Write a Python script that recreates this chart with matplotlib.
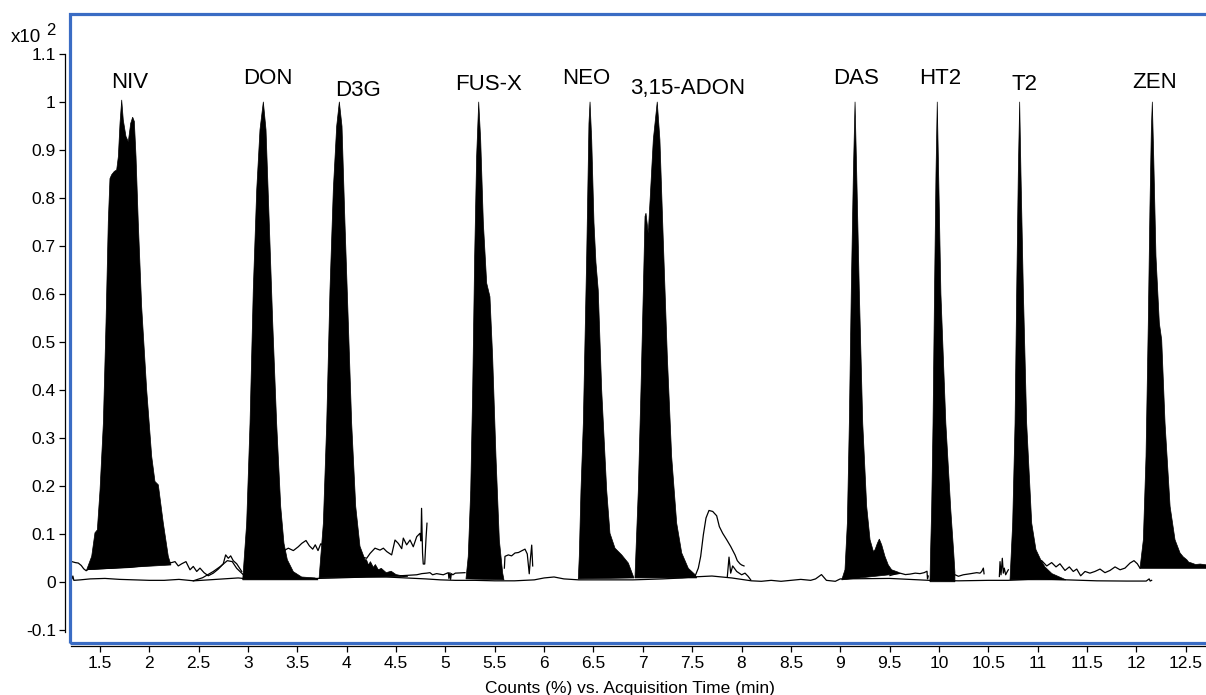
import matplotlib
matplotlib.use("Agg")
import matplotlib.pyplot as plt
from matplotlib.patches import Rectangle

plt.rcParams['font.family'] = ['Liberation Sans', 'DejaVu Sans']

# ---- filled peaks (time in min, counts in x10^2 %) ----
niv_t = [1.365, 1.416, 1.449, 1.473, 1.50, 1.534, 1.561, 1.584, 1.601, 1.618, 1.645, 1.669, 1.686,
         1.703, 1.72, 1.736, 1.763, 1.787, 1.811, 1.831, 1.848, 1.865, 1.888, 1.922, 1.973, 2.024,
         2.057, 2.091, 2.141, 2.192, 2.219]
niv_y = [0.025, 0.053, 0.102, 0.108, 0.19, 0.33, 0.54, 0.75, 0.84, 0.848, 0.855, 0.858, 0.886,
         0.956, 1.004, 0.962, 0.928, 0.917, 0.955, 0.968, 0.959, 0.886, 0.748, 0.574, 0.40, 0.261,
         0.209, 0.202, 0.123, 0.053, 0.035]

don_t = [2.946, 2.986, 3.02, 3.053, 3.088, 3.121, 3.155, 3.182, 3.215, 3.25, 3.29, 3.331, 3.364,
         3.398, 3.459, 3.543, 3.678, 3.71]
don_y = [0.004, 0.122, 0.33, 0.608, 0.817, 0.942, 1.0, 0.942, 0.748, 0.54, 0.33, 0.157, 0.08,
         0.046, 0.021, 0.01, 0.008, 0.004]

d3g_t = [3.72, 3.763, 3.797, 3.83, 3.864, 3.898, 3.925, 3.952, 3.982, 4.016, 4.05, 4.091, 4.134,
         4.185, 4.20, 4.22, 4.24, 4.27, 4.29, 4.32, 4.35, 4.40, 4.45, 4.50, 4.55, 4.62]
d3g_y = [0.008, 0.122, 0.33, 0.608, 0.817, 0.949, 1.0, 0.949, 0.748, 0.54, 0.33, 0.157, 0.074,
         0.046, 0.046, 0.035, 0.042, 0.030, 0.036, 0.025, 0.028, 0.019, 0.022, 0.015, 0.013, 0.011]

fusx_t = [5.208, 5.231, 5.256, 5.276, 5.296, 5.316, 5.337, 5.357, 5.384, 5.418, 5.451, 5.478,
          5.512, 5.546, 5.58, 5.593]
fusx_y = [0.006, 0.053, 0.19, 0.40, 0.678, 0.886, 1.0, 0.921, 0.748, 0.622, 0.594, 0.47,
          0.261, 0.087, 0.018, 0.004]

neo_t = [6.346, 6.356, 6.373, 6.397, 6.431, 6.454, 6.465, 6.482, 6.505, 6.525, 6.548, 6.583,
         6.634, 6.667, 6.718, 6.786, 6.853, 6.897, 6.91]
neo_y = [0.006, 0.053, 0.19, 0.33, 0.678, 0.955, 1.0, 0.921, 0.748, 0.665, 0.608, 0.40,
         0.19, 0.101, 0.07, 0.056, 0.039, 0.015, 0.008]

adon_t = [6.92, 6.954, 6.981, 7.005, 7.022, 7.032, 7.055, 7.079, 7.106, 7.146, 7.173, 7.207,
          7.248, 7.292, 7.343, 7.394, 7.461, 7.529, 7.546]
adon_y = [0.008, 0.19, 0.40, 0.608, 0.761, 0.768, 0.726, 0.817, 0.921, 1.0, 0.921, 0.7125,
          0.47, 0.261, 0.122, 0.06, 0.028, 0.015, 0.008]

das_t = [9.015, 9.048, 9.072, 9.092, 9.112, 9.133, 9.15, 9.167, 9.193, 9.228, 9.268, 9.302,
         9.336, 9.353, 9.376, 9.396, 9.42, 9.453, 9.487, 9.521, 9.588, 9.61]
das_y = [0.004, 0.025, 0.122, 0.33, 0.608, 0.851, 1.0, 0.851, 0.608, 0.33, 0.157, 0.0875,
         0.063, 0.067, 0.08, 0.089, 0.077, 0.053, 0.035, 0.025, 0.02, 0.017]

ht2_t = [9.909, 9.915, 9.926, 9.94, 9.955, 9.97, 9.983, 9.997, 10.02, 10.07, 10.12, 10.15,
         10.162, 10.162]
ht2_y = [0.0, 0.06, 0.15, 0.33, 0.60, 0.85, 1.0, 0.85, 0.60, 0.33, 0.15, 0.06, 0.02, 0.0]

t2_t = [10.72, 10.747, 10.771, 10.788, 10.804, 10.818, 10.831, 10.855, 10.889, 10.94, 10.983,
        11.031, 11.074, 11.145, 11.287]
t2_y = [0.004, 0.122, 0.33, 0.608, 0.851, 1.0, 0.851, 0.608, 0.33, 0.122, 0.067,
        0.046, 0.031, 0.017, 0.004]

zen_t = [12.037, 12.071, 12.098, 12.121, 12.138, 12.152, 12.162, 12.176, 12.199, 12.233, 12.257,
         12.291, 12.342, 12.392, 12.443, 12.475, 12.511, 12.53, 12.561, 12.6, 12.646, 12.72, 12.72]
zen_y = [0.028, 0.0875, 0.261, 0.539, 0.782, 0.942, 1.0, 0.886, 0.678, 0.539, 0.504,
         0.33, 0.157, 0.0875, 0.06, 0.052, 0.046, 0.041, 0.039, 0.036, 0.037, 0.035, 0.028]

peak_names = ['NIV', 'DON', 'D3G', 'FUS-X', 'NEO', '3,15-ADON', 'DAS', 'HT2', 'T2', 'ZEN']

# ---- unfilled traces ----
base_t = [1.215, 1.225, 1.235, 1.30, 1.40, 1.55, 1.70, 1.85, 2.0, 2.15, 2.3, 2.45, 2.6, 2.75,
          2.9, 3.0, 3.5, 3.7, 3.9, 4.2, 4.4, 4.6, 4.8, 4.95, 5.1, 5.3, 5.5, 5.7, 5.9, 6.0, 6.1,
          6.2, 6.35, 6.6, 6.9, 7.2, 7.4, 7.5, 7.7, 7.9, 8.1, 8.2, 8.3, 8.4, 8.5, 8.6, 8.7, 8.75,
          8.81, 8.86, 8.95, 9.0, 9.5, 9.7, 9.9, 10.2, 10.5, 10.7, 11.0, 11.3, 11.6, 11.9, 12.1,
          12.13, 12.14, 12.155]
base_y = [0.006, 0.012, 0.003, 0.004, 0.006, 0.007, 0.005, 0.004, 0.003, 0.003, 0.005, 0.002,
          0.004, 0.006, 0.008, 0.006, 0.006, 0.007, 0.008, 0.010, 0.010, 0.008, 0.006, 0.004,
          0.003, 0.003, 0.002, 0.002, 0.004, 0.008, 0.010, 0.006, 0.004, 0.004, 0.004, 0.006,
          0.008, 0.010, 0.012, 0.008, 0.002, 0.001, 0.003, 0.001, 0.003, 0.005, 0.003, 0.006,
          0.015, 0.003, 0.001, 0.006, 0.007, 0.005, 0.003, 0.002, 0.003, 0.003, 0.006, 0.004,
          0.002, 0.0015, 0.0015, 0.006, 0.0015, 0.003]

left_t = [1.215, 1.25, 1.28, 1.31, 1.335, 1.36, 1.38, 1.8, 2.226, 2.26, 2.293, 2.328, 2.371,
          2.412, 2.445, 2.48, 2.513, 2.554, 2.597, 2.648, 2.699, 2.749, 2.773, 2.80, 2.824,
          2.85, 2.885, 2.936]
left_y = [0.042, 0.040, 0.039, 0.034, 0.027, 0.023, 0.026, 0.03, 0.040, 0.042, 0.033, 0.0375,
          0.042, 0.025, 0.032, 0.0215, 0.0285, 0.019, 0.0125, 0.018, 0.0265, 0.0375, 0.056,
          0.049, 0.054, 0.044, 0.0375, 0.0215]

bump_t = [2.445, 2.54, 2.648, 2.72, 2.79, 2.84, 2.885, 2.953]
bump_y = [0.002, 0.0085, 0.0215, 0.032, 0.044, 0.042, 0.028, 0.0145]

mid_t = [3.374, 3.408, 3.459, 3.509, 3.544, 3.587, 3.621, 3.655, 3.681, 3.709, 3.736, 4.0,
         4.202, 4.236, 4.286, 4.337, 4.371, 4.405, 4.455, 4.489, 4.522, 4.557, 4.573, 4.607,
         4.641, 4.674, 4.709, 4.742, 4.752, 4.758, 4.768, 4.775, 4.79, 4.803, 4.813]
mid_y = [0.066, 0.070, 0.065, 0.073, 0.080, 0.086, 0.075, 0.068, 0.077, 0.065, 0.079, 0.06,
         0.049, 0.059, 0.070, 0.066, 0.070, 0.063, 0.056, 0.087, 0.080, 0.069, 0.091, 0.077,
         0.087, 0.073, 0.094, 0.101, 0.085, 0.153, 0.06, 0.037, 0.037, 0.09, 0.122]

low_t = [4.54, 4.709, 4.76, 4.81, 4.843, 4.87, 4.91, 4.978, 5.029, 5.035, 5.045, 5.052, 5.06,
         5.075, 5.10, 5.198]
low_y = [0.0125, 0.0146, 0.017, 0.018, 0.019, 0.0146, 0.017, 0.0146, 0.019, 0.007, 0.019,
         0.005, 0.017, 0.0146, 0.018, 0.019]

fus_tail_t = [5.597, 5.603, 5.637, 5.67, 5.705, 5.74, 5.773, 5.806, 5.829, 5.849, 5.86, 5.874,
              5.884]
fus_tail_y = [0.0285, 0.053, 0.056, 0.054, 0.060, 0.061, 0.0646, 0.068, 0.058, 0.0167, 0.046,
              0.0764, 0.033]

hump_t = [7.528, 7.562, 7.586, 7.613, 7.64, 7.67, 7.708, 7.748, 7.775, 7.809, 7.85, 7.89,
          7.934, 7.957, 7.984, 8.001, 8.025]
hump_y = [0.011, 0.0285, 0.053, 0.098, 0.133, 0.1486, 0.1465, 0.1375, 0.115, 0.101, 0.0875,
          0.0736, 0.056, 0.044, 0.0375, 0.035, 0.033]

spike8_t = [7.856, 7.873, 7.89, 7.91, 7.951, 8.001, 8.035, 8.068, 8.093]
spike8_y = [0.011, 0.0514, 0.018, 0.033, 0.0215, 0.0146, 0.018, 0.011, 0.004]

das_ht2_t = [9.504, 9.555, 9.606, 9.66, 9.707, 9.76, 9.808, 9.85, 9.879, 9.884, 9.892]
das_ht2_y = [0.013, 0.016, 0.018, 0.015, 0.016, 0.018, 0.017, 0.019, 0.022, 0.006, 0.012]

ht2_t2_t = [10.163, 10.197, 10.247, 10.315, 10.383, 10.416, 10.433, 10.45, 10.457]
ht2_t2_y = [0.0146, 0.0115, 0.0146, 0.0167, 0.019, 0.018, 0.0215, 0.0285, 0.0167]

spike10_t = [10.612, 10.619, 10.629, 10.642, 10.652, 10.662, 10.676, 10.693, 10.703]
spike10_y = [0.011, 0.042, 0.0146, 0.049, 0.018, 0.0285, 0.0146, 0.0215, 0.025]

t2_zen_t = [11.041, 11.092, 11.142, 11.186, 11.226, 11.277, 11.321, 11.361, 11.396, 11.436,
            11.48, 11.53, 11.58, 11.632, 11.682, 11.733, 11.784, 11.835, 11.885, 11.936,
            11.976, 12.01, 12.037]
t2_zen_y = [0.044, 0.033, 0.040, 0.031, 0.0375, 0.0236, 0.031, 0.0215, 0.0265, 0.0125,
            0.0215, 0.018, 0.0215, 0.0265, 0.019, 0.0236, 0.031, 0.025, 0.0285, 0.039,
            0.044, 0.0375, 0.0285]

xtick_vals = [1.5 + 0.5 * i for i in range(23)]
xtick_labels = ['%g' % v for v in xtick_vals]
ytick_vals = [-0.1, 0, 0.1, 0.2, 0.3, 0.4, 0.5, 0.6, 0.7, 0.8, 0.9, 1, 1.1]
ytick_labels = ['-0.1', '0', '0.1', '0.2', '0.3', '0.4', '0.5', '0.6', '0.7', '0.8', '0.9',
                '1', '1.1']

W, H = 1206, 695
fig = plt.figure(figsize=(W / 100, H / 100), dpi=100)
ax = fig.add_axes([69.5 / W, 1 - 642.5 / H, (1208 - 69.5) / W, (642.5 - 13.5) / H])
ax.set_xlim(1.191, 12.726)
ax.set_ylim(-0.1265, 1.184)

# thin traces
traces = [(base_t, base_y), (left_t, left_y), (bump_t, bump_y), (mid_t, mid_y), (low_t, low_y),
          (fus_tail_t, fus_tail_y), (hump_t, hump_y), (spike8_t, spike8_y),
          (das_ht2_t, das_ht2_y), (ht2_t2_t, ht2_t2_y), (spike10_t, spike10_y),
          (t2_zen_t, t2_zen_y)]
for tt, yy in traces:
    ax.plot(tt, yy, color='black', lw=0.9, zorder=2)

# filled peaks
peaks = [(niv_t, niv_y), (don_t, don_y), (d3g_t, d3g_y), (fusx_t, fusx_y), (neo_t, neo_y),
         (adon_t, adon_y), (das_t, das_y), (ht2_t, ht2_y), (t2_t, t2_y), (zen_t, zen_y)]
for tt, yy in peaks:
    ax.fill(tt, yy, facecolor='black', edgecolor='black', lw=0.5, zorder=3)

# peak labels (baseline placement)
label_x = [1.804, 3.20, 4.109, 5.436, 6.429, 7.452, 9.165, 10.01, 10.862, 12.19]
label_y = [1.028, 1.037, 1.012, 1.025, 1.037, 1.016, 1.037, 1.037, 1.025, 1.028]
for name, lx, ly in zip(peak_names, label_x, label_y):
    ax.text(lx, ly, name, ha='center', va='baseline', fontsize=16, zorder=4)

# axes styling
for s in ['top', 'right']:
    ax.spines[s].set_visible(False)
ax.spines['left'].set_position(('outward', 2.9))
ax.spines['bottom'].set_position(('outward', 2.5))
ax.spines['left'].set_bounds(-0.105, 1.1)
ax.spines['bottom'].set_bounds(1.206, 12.726)
for s in ['left', 'bottom']:
    ax.spines[s].set_linewidth(0.9)

ax.set_xticks(xtick_vals)
ax.set_xticklabels(xtick_labels)
ax.set_yticks(ytick_vals)
ax.set_yticklabels(ytick_labels)
ax.tick_params(direction='out', length=4, width=0.9, labelsize=12.5, pad=3)

ax.add_patch(Rectangle((0, 0), 1, 1, transform=ax.transAxes, fill=False,
                       edgecolor='#3a6cc4', lw=2.3, clip_on=False, zorder=5))

fig.text(630 / W, 1 - 688 / H, 'Counts (%) vs. Acquisition Time (min)', ha='center',
         va='center', fontsize=12.5)
fig.text(11 / W, 1 - 42 / H, 'x10', ha='left', va='baseline', fontsize=13.5)
fig.text(46 / W, 1 - 35 / H, '2', ha='left', va='baseline', fontsize=12)

fig.savefig('out.png', dpi=100)
